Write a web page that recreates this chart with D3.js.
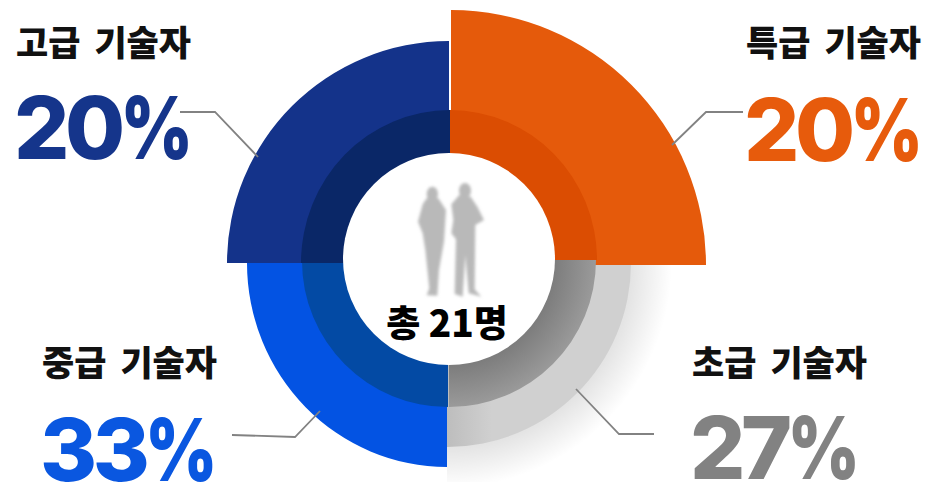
<!DOCTYPE html>
<html>
  <head>
    <meta charset="utf-8">
    <script src="https://d3js.org/d3.v7.min.js"></script>
    <style type="text/css">
html, body {
  margin: 0;
  padding: 0;
  background: #fff;
}
svg {
  display: block;
}
.title {
  font-family: "Noto Sans CJK KR", sans-serif;
  font-weight: 900;
  font-size: 35px;
  word-spacing: 6px;
  fill: #111;
}
.pct {
  font-family: Inter, sans-serif;
  font-weight: 800;
  font-size: 87px;
  letter-spacing: -4.5px;
}
.pct .sign {
  font-weight: 900;
  letter-spacing: 0;
}
.total {
  font-family: "Noto Sans CJK KR", sans-serif;
  font-weight: 900;
  font-size: 37px;
  fill: #000;
}
    </style>
  </head>
  <body>
    <script type="text/javascript">
// data
var categories = ["특급 기술자", "초급 기술자", "중급 기술자", "고급 기술자"];
var percents = [20, 27, 33, 20];
var totalLabel = "총 21명";

// layout, same order as categories
var outerColors = ["#e55a0b", "url(#greyOuter)", "#0353e3", "#14338a"];
var innerColors = ["#db4d02", "url(#greyInner)", "#034aa4", "#0a2767"];
var textColors = ["#e75b0c", "#828282", "#0a57e0", "#15358b"];
var outerCenters = [[451, 265], [447, 263], [447, 263], [449, 263]];
var innerCenters = [[450, 260], [449, 260], [448, 261], [450, 263]];
var outerRadius = [255, 184, 200, 222];
var innerRadius = [147, 147, 146, 149];
var outerStretch = [1, 1, 1.02, 1];
var innerStretch = [1.02, 1, 1, 1.027];
var titlePos = [[746, 56], [692, 376], [42, 376], [16, 56]];
var pctPos = [[744, 161], [690, 479], [40, 481], [14, 159]];
var signWidth = 72;
var leaders = [
  [[743, 112], [706, 112], [672, 145]],
  [[654, 434], [619, 434], [576, 389]],
  [[232, 435], [295, 437], [320, 411]],
  [[180, 112], [215, 112], [258, 157]]
];

var width = 943, height = 482;

var svg = d3.select("body").append("svg")
    .attr("width", width)
    .attr("height", height);

var defs = svg.append("defs");

// gradients sit in the translated space of each slice, so centre is 0,0
var shadow = defs.append("radialGradient").attr("id", "shadow")
    .attr("gradientUnits", "userSpaceOnUse")
    .attr("cx", 0).attr("cy", 0).attr("r", 225);
shadow.append("stop").attr("offset", 0.8).attr("stop-color", "#000").attr("stop-opacity", 0.12);
shadow.append("stop").attr("offset", 1).attr("stop-color", "#000").attr("stop-opacity", 0);

var greyOuter = defs.append("linearGradient").attr("id", "greyOuter")
    .attr("gradientUnits", "userSpaceOnUse")
    .attr("x1", 0).attr("y1", 0).attr("x2", 45).attr("y2", 0);
greyOuter.append("stop").attr("offset", 0).attr("stop-color", "#bdbdbd");
greyOuter.append("stop").attr("offset", 1).attr("stop-color", "#d0d0d0");

var greyInner = defs.append("radialGradient").attr("id", "greyInner")
    .attr("gradientUnits", "userSpaceOnUse")
    .attr("cx", 0).attr("cy", 0).attr("r", 147);
greyInner.append("stop").attr("offset", 0.72).attr("stop-color", "#7d7d7d");
greyInner.append("stop").attr("offset", 1).attr("stop-color", "#9a9a9a");

defs.append("filter").attr("id", "blur")
    .append("feGaussianBlur").attr("stdDeviation", 4);

// all four slices take a quarter in the original, whatever the percent says
var pie = d3.pie().value(function() { return 1; }).sort(null);
var slices = pie(percents);
var arc = d3.arc();

function arcPath(d, inner, outer) {
  return arc({
    innerRadius: inner,
    outerRadius: outer,
    startAngle: d.startAngle,
    endAngle: d.endAngle
  });
}

function place(center, stretch) {
  return "translate(" + center + ") scale(1," + stretch + ")";
}

// soft shadow under the grey slice
svg.append("path")
    .attr("transform", "translate(447,263)")
    .attr("d", arcPath(slices[1], 170, 225))
    .attr("fill", "url(#shadow)");

// draw order: grey and blue first, the bigger slices overlap them
var outerOrder = [1, 2, 3, 0];
svg.append("g").selectAll("path")
    .data(outerOrder)
  .join("path")
    .attr("transform", function(i) { return place(outerCenters[i], outerStretch[i]); })
    .attr("d", function(i) { return arcPath(slices[i], 100, outerRadius[i]); })
    .attr("fill", function(i) { return outerColors[i]; });

svg.append("g").selectAll("path")
    .data(outerOrder)
  .join("path")
    .attr("transform", function(i) { return place(innerCenters[i], innerStretch[i]); })
    .attr("d", function(i) { return arcPath(slices[i], 100, innerRadius[i]); })
    .attr("fill", function(i) { return innerColors[i]; });

svg.append("circle")
    .attr("cx", 449)
    .attr("cy", 259)
    .attr("r", 106)
    .attr("fill", "#fff");

// leader lines
var line = d3.line();
svg.append("g").selectAll("path")
    .data(leaders)
  .join("path")
    .attr("d", line)
    .attr("fill", "none")
    .attr("stroke", "#828282")
    .attr("stroke-width", 1.8);

// two blurred people in the middle, traced in zoomed crop coordinates
var people = svg.append("g")
    .attr("transform", "translate(370,170) scale(0.3333)")
    .attr("fill", "#b9b9b9")
    .attr("filter", "url(#blur)");
people.append("ellipse").attr("cx", 187).attr("cy", 72).attr("rx", 17).attr("ry", 22);
people.append("ellipse").attr("cx", 285).attr("cy", 62).attr("rx", 18).attr("ry", 23);
people.append("path")
    .attr("d", "M170 85L158 103L144 155L158 190L166 240L178 355L170 376L202 377L207 300L222 215L228 120L205 85Z");
people.append("path")
    .attr("d", "M268 75L244 103L250 150L244 190L258 208L254 372L278 380L286 255L296 370L334 380L314 358L316 165L342 150L322 110L302 80Z");

var labels = svg.append("g").selectAll("g")
    .data(categories)
  .join("g");

labels.append("text")
    .attr("class", "title")
    .attr("x", function(d, i) { return titlePos[i][0]; })
    .attr("y", function(d, i) { return titlePos[i][1]; })
    .text(function(d) { return d; });

var pct = labels.append("text")
    .attr("class", "pct")
    .attr("x", function(d, i) { return pctPos[i][0]; })
    .attr("y", function(d, i) { return pctPos[i][1]; })
    .attr("fill", function(d, i) { return textColors[i]; });

pct.append("tspan")
    .text(function(d, i) { return percents[i]; });

// the % in the reference is narrower than Inter's
pct.append("tspan")
    .attr("class", "sign")
    .attr("textLength", signWidth)
    .attr("lengthAdjust", "spacingAndGlyphs")
    .text("%");

svg.append("text")
    .attr("class", "total")
    .attr("x", 447)
    .attr("y", 337)
    .attr("text-anchor", "middle")
    .text(totalLabel);
    </script>
  </body>
</html>
